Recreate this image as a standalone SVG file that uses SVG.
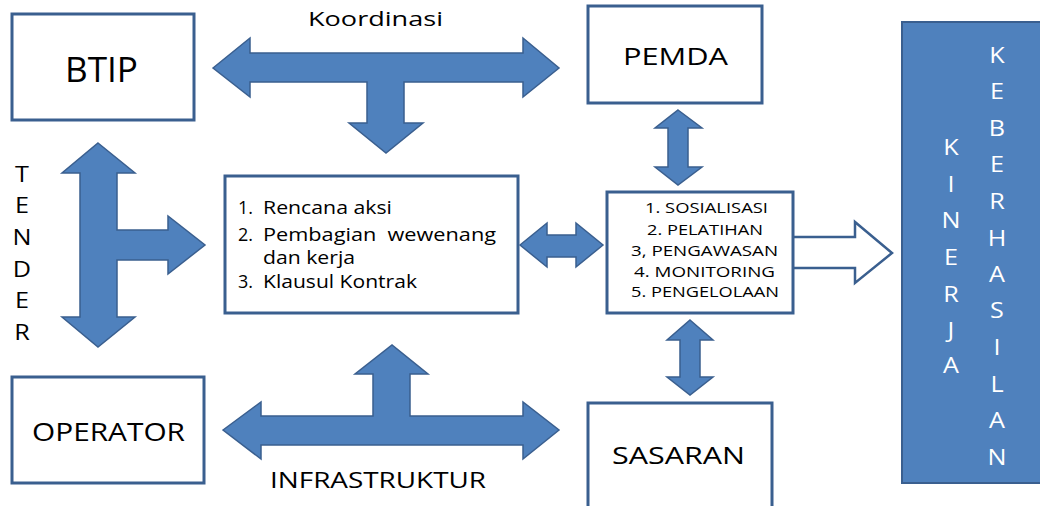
<svg xmlns="http://www.w3.org/2000/svg" width="1040" height="506" viewBox="0 0 1040 506">
<style>
.box{fill:#fff;stroke:#3a5f8f;stroke-width:3}
.arr{fill:#4f81bd;stroke:#3a5f8f;stroke-width:1.5;stroke-linejoin:miter}
.warr{fill:#fff;stroke:#3a5f8f;stroke-width:2.5}
.t{font-family:"Open Sans","Noto Sans","Liberation Sans",sans-serif;fill:#000}
.w{font-family:"Open Sans","Noto Sans","Liberation Sans",sans-serif;fill:#fff;font-size:21px;text-anchor:middle}
.l{font-family:"Open Sans","Noto Sans","Liberation Sans",sans-serif;fill:#000;font-size:21px;text-anchor:middle}
</style>
<rect width="1040" height="506" fill="#fff"/>
<g id="connectors">
<path class="arr" d="M213,68 L250,38 L250,53 L523,53 L523,38 L559,68 L523,97 L523,82 L404,82 L404,123 L423,123 L386,153 L349,123 L367,123 L367,82 L250,82 L250,97 Z"/>
<path class="arr" d="M223,430 L261,402 L261,416 L373,416 L373,374 L355,374 L392,345 L428,374 L410,374 L410,416 L523,416 L523,402 L559,430 L523,459 L523,445 L261,445 L261,459 Z"/>
<path class="arr" d="M98,143 L135,173 L117,173 L117,230 L168,230 L168,216 L205,245 L168,274 L168,260 L117,260 L117,317 L135,317 L98,347 L62,317 L80,317 L80,173 L62,173 Z"/>
<path class="arr" d="M520,245 L547,223 L547,235 L576,235 L576,223 L603,245 L576,267 L576,257 L547,257 L547,267 Z"/>
<path class="arr" d="M678,110 L702,128 L688,128 L688,167 L702,167 L678,185 L655,167 L668,167 L668,128 L655,128 Z"/>
<path class="arr" d="M690,320 L713,340 L700,340 L700,377 L713,377 L690,395 L667,377 L680,377 L680,340 L667,340 Z"/>
<path class="warr" d="M793,237 L855,237 L855,222 L892,253 L855,283 L855,268 L793,268"/>
</g>
<g id="btip"><rect class="box" x="12" y="14" width="182" height="106"/><text class="t" x="65" y="82" font-size="34" textLength="73" lengthAdjust="spacingAndGlyphs">BTIP</text></g>
<g id="operator"><rect class="box" x="12" y="377" width="192" height="106"/><text class="t" x="32" y="441" font-size="25" textLength="153" lengthAdjust="spacingAndGlyphs">OPERATOR</text></g>
<g id="pemda"><rect class="box" x="588" y="6" width="174" height="97"/><text class="t" x="623" y="65" font-size="24" textLength="105" lengthAdjust="spacingAndGlyphs">PEMDA</text></g>
<g id="sasaran"><rect class="box" x="588" y="403" width="184" height="110"/><text class="t" x="612" y="464" font-size="24" textLength="133" lengthAdjust="spacingAndGlyphs">SASARAN</text></g>
<g id="rencana"><rect class="box" x="225" y="176" width="293" height="137"/>
<text class="t" font-size="18" x="238" y="214" textLength="15" lengthAdjust="spacingAndGlyphs">1.</text>
<text class="t" font-size="18" x="263" y="214" textLength="129" lengthAdjust="spacingAndGlyphs">Rencana aksi</text>
<text class="t" font-size="18" x="238" y="241" textLength="15" lengthAdjust="spacingAndGlyphs">2.</text>
<text class="t" font-size="18" x="263" y="241" textLength="233" lengthAdjust="spacingAndGlyphs" xml:space="preserve">Pembagian  wewenang</text>
<text class="t" font-size="18" x="263" y="264" textLength="92" lengthAdjust="spacingAndGlyphs">dan kerja</text>
<text class="t" font-size="18" x="238" y="288" textLength="15" lengthAdjust="spacingAndGlyphs">3.</text>
<text class="t" font-size="18" x="263" y="288" textLength="154" lengthAdjust="spacingAndGlyphs">Klausul Kontrak</text>
</g>
<g id="kegiatan"><rect class="box" x="607" y="192" width="186" height="121"/>
<text class="t" font-size="14" x="645" y="213" textLength="123" lengthAdjust="spacingAndGlyphs">1. SOSIALISASI</text>
<text class="t" font-size="14" x="647" y="235" textLength="116" lengthAdjust="spacingAndGlyphs">2. PELATIHAN</text>
<text class="t" font-size="14" x="631" y="256" textLength="147" lengthAdjust="spacingAndGlyphs">3, PENGAWASAN</text>
<text class="t" font-size="14" x="634" y="277" textLength="141" lengthAdjust="spacingAndGlyphs">4. MONITORING</text>
<text class="t" font-size="14" x="631" y="297" textLength="148" lengthAdjust="spacingAndGlyphs">5. PENGELOLAAN</text>
</g>
<g id="kinerja"><rect x="902" y="22" width="150" height="461" fill="#4f81bd" stroke="#3a5f8f" stroke-width="2"/>
<g transform="translate(951,0) scale(1.2,1)"><text class="w"><tspan x="0" y="155">K</tspan><tspan x="0" y="192">I</tspan><tspan x="0" y="228">N</tspan><tspan x="0" y="265">E</tspan><tspan x="0" y="302">R</tspan><tspan x="0" y="338">J</tspan><tspan x="0" y="373">A</tspan></text></g>
<g transform="translate(997,0) scale(1.2,1)"><text class="w"><tspan x="0" y="63">K</tspan><tspan x="0" y="99">E</tspan><tspan x="0" y="136">B</tspan><tspan x="0" y="172">E</tspan><tspan x="0" y="209">R</tspan><tspan x="0" y="246">H</tspan><tspan x="0" y="282">A</tspan><tspan x="0" y="318">S</tspan><tspan x="0" y="355">I</tspan><tspan x="0" y="392">L</tspan><tspan x="0" y="428">A</tspan><tspan x="0" y="465">N</tspan></text></g>
</g>
<g id="labels">
<text class="t" x="308" y="26" font-size="20" textLength="135" lengthAdjust="spacingAndGlyphs">Koordinasi</text>
<text class="t" x="270" y="488" font-size="21" textLength="216" lengthAdjust="spacingAndGlyphs">INFRASTRUKTUR</text>
<g id="tender" transform="translate(22,0) scale(1.2,1)"><text class="l"><tspan x="0" y="182">T</tspan><tspan x="0" y="213">E</tspan><tspan x="0" y="245">N</tspan><tspan x="0" y="277">D</tspan><tspan x="0" y="308">E</tspan><tspan x="0" y="340">R</tspan></text></g>
</g>
</svg>
